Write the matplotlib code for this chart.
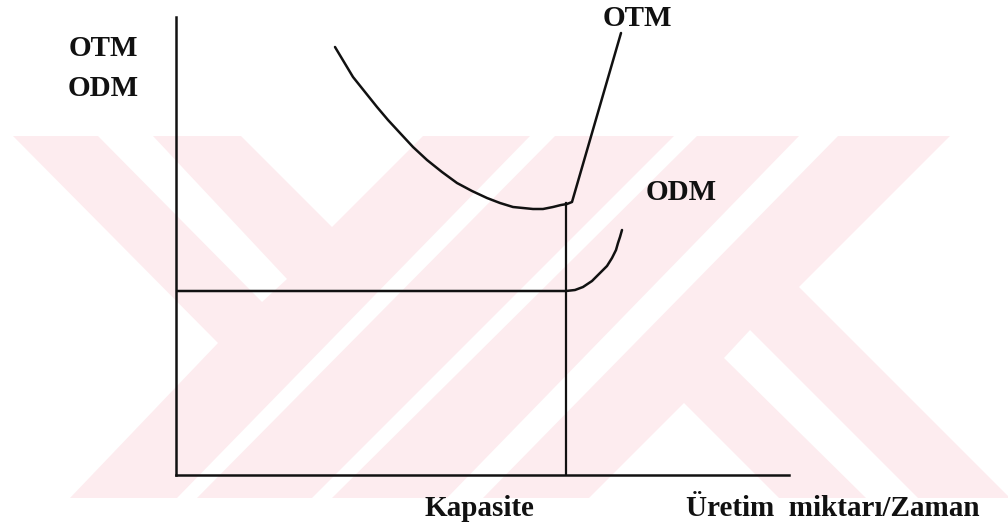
import matplotlib
matplotlib.use("Agg")
import matplotlib.pyplot as plt
from matplotlib.patches import Polygon, Rectangle

# diagram values (units: origin at the axes corner)
kapasite = 390
odm_level = 184
kap_top = 272
otm_x = [159, 168, 177, 189, 201, 212, 224, 237, 251, 266, 281, 296, 311,
         324, 337, 347, 357, 367, 377, 385, 391, 396, 445]
otm_y = [428, 413, 398, 383, 368, 355, 342, 328, 315, 303, 292, 284, 277,
         272, 268, 267, 266, 266, 268, 270, 271, 273, 442]
odm_x = [0, 390, 399, 407, 416, 424, 431, 436, 440, 442, 444, 446]
odm_y = [184, 184, 185, 188, 194, 202, 209, 217, 225, 232, 238, 245]

left_labels = ["OTM", "ODM"]
curve_labels = ["OTM", "ODM"]
x_labels = ["Kapasite", "Üretim  miktarı/Zaman"]

# pale watermark behind the scan (pixel coordinates)
wm_band = (136, 498)
wm_white = [
    [(0, 136), (13, 136), (218, 343), (70, 498), (0, 498)],
    [(98, 136), (153, 136), (287, 279), (262, 302)],
    [(241, 136), (423, 136), (332, 227)],
    [(530, 136), (555, 136), (197, 498), (177, 498)],
    [(674, 136), (697, 136), (332, 498), (312, 498)],
    [(799, 136), (838, 136), (483, 498), (447, 498)],
    [(684, 403), (589, 498), (779, 498)],
    [(724, 358), (750, 330), (918, 498), (866, 498)],
    [(950, 136), (1008, 136), (1008, 496), (799, 287)],
]
pink = "#fdecef"

fig = plt.figure(figsize=(10.08, 5.28), dpi=100)

bg = fig.add_axes([0, 0, 1, 1])
bg.set_xlim(0, 1008)
bg.set_ylim(528, 0)
bg.axis("off")
bg.add_patch(Rectangle((0, wm_band[0]), 1008, wm_band[1] - wm_band[0],
                       facecolor=pink, edgecolor="none"))
for poly in wm_white:
    bg.add_patch(Polygon(poly, closed=True, facecolor="white", edgecolor="none"))

ax = fig.add_axes([176 / 1008, 53 / 528, 613 / 1008, 458 / 528])
ax.set_facecolor("none")
ax.set_xlim(0, 613)
ax.set_ylim(0, 458)
for s in ["top", "right"]:
    ax.spines[s].set_visible(False)
for s in ["left", "bottom"]:
    ax.spines[s].set_linewidth(1.8)
    ax.spines[s].set_color("#111111")
ax.set_xticks([])
ax.set_yticks([])

lc = "#111111"
ax.plot([kapasite, kapasite], [0, kap_top], color=lc, lw=1.6)
ax.plot(odm_x, odm_y, color=lc, lw=1.8, solid_capstyle="round")
ax.plot(otm_x, otm_y, color=lc, lw=1.8, solid_capstyle="round")

font = dict(family="Liberation Serif", fontsize=21, weight="bold", color="#111111")
ax.text(-73, 427, left_labels[0], ha="center", va="center", clip_on=False, **font)
ax.text(-73, 387, left_labels[1], ha="center", va="center", clip_on=False, **font)
ax.text(461, 456, curve_labels[0], ha="center", va="center", clip_on=False, **font)
ax.text(505, 282, curve_labels[1], ha="center", va="center", clip_on=False, **font)
ax.text(303, -33, x_labels[0], ha="center", va="center", clip_on=False, **font)
ax.text(657, -33, x_labels[1], ha="center", va="center", clip_on=False, **font)

fig.savefig("out.png", dpi=100)
